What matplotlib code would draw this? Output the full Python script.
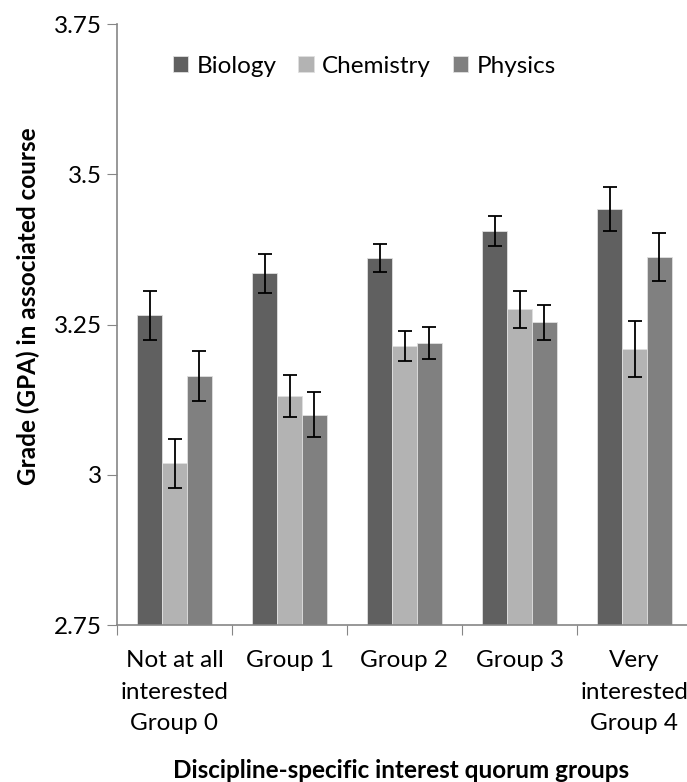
import matplotlib
matplotlib.use("Agg")
import matplotlib.pyplot as plt
import numpy as np

categories = ["Not at all\ninterested\nGroup 0", "Group 1", "Group 2", "Group 3", "Very\ninterested\nGroup 4"]
series = ["Biology", "Chemistry", "Physics"]
biology = [3.265, 3.335, 3.361, 3.405, 3.442]
chemistry = [3.019, 3.131, 3.215, 3.275, 3.209]
physics = [3.164, 3.100, 3.219, 3.254, 3.363]
biology_err = [0.040, 0.033, 0.023, 0.025, 0.037]
chemistry_err = [0.041, 0.035, 0.025, 0.030, 0.046]
physics_err = [0.042, 0.037, 0.027, 0.029, 0.040]
yticks = [2.75, 3.0, 3.25, 3.5, 3.75]
yticklabels = ["2.75", "3", "3.25", "3.5", "3.75"]

colors = ["#606060", "#b3b3b3", "#808080"]
plt.rcParams['font.family'] = ['Lato', 'DejaVu Sans']
FS = 17.5

fig = plt.figure(figsize=(6.87, 7.82), dpi=100)
ax = fig.add_axes([117/687, 1-625/782, (692-117)/687, 601/782])

x = np.arange(len(categories))
w = 0.217
vals = [biology, chemistry, physics]
errs = [biology_err, chemistry_err, physics_err]
for i, (s, v, e, c) in enumerate(zip(series, vals, errs, colors)):
    ax.bar(x + (i-1)*w, np.array(v) - 2.75, w, bottom=2.75, color=c, edgecolor="#e0e0e0", linewidth=0.6,
           label=s, yerr=e, error_kw=dict(ecolor="black", elinewidth=1.3, capsize=5, capthick=1.3), zorder=2)

ax.set_xlim(-0.5, 4.5)
ax.set_ylim(2.75, 3.75)
ax.set_yticks(yticks)
ax.set_yticklabels(yticklabels, fontsize=FS)
ax.set_xticks(np.arange(-0.5, 4.6, 1.0))
ax.set_xticklabels([])
ax.set_xticks(x, minor=True)
ax.set_xticklabels(categories, minor=True, fontsize=FS, linespacing=1.62, va="top")
ax.tick_params(axis="x", which="minor", length=0, pad=18)
ax.tick_params(axis="x", which="major", length=7, color="#868686", direction="out")
ax.tick_params(axis="y", length=7, color="#868686", direction="out", pad=4)
for sp in ["top", "right"]:
    ax.spines[sp].set_visible(False)
for sp in ["left", "bottom"]:
    ax.spines[sp].set_color("#868686")
    ax.spines[sp].set_linewidth(1.2)

ax.set_ylabel("Grade (GPA) in associated course", fontsize=FS, fontweight="bold")
ax.yaxis.set_label_coords(-0.134, 0.53)
fig.text(401/687, 1-770/782, "Discipline-specific interest quorum groups", fontsize=FS, fontweight="bold",
         ha="center", va="center")

leg = ax.legend(loc="center left", bbox_to_anchor=((173-117)/575, (625-66)/601), ncol=3, frameon=False,
                fontsize=FS, handlelength=0.62, handleheight=0.62, handletextpad=0.35, columnspacing=0.9,
                borderpad=0, borderaxespad=0)

fig.savefig("out.png", dpi=100)
